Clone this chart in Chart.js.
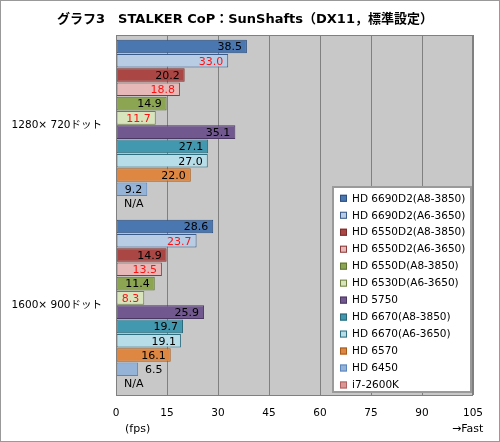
<!DOCTYPE html>
<html>
<head>
<meta charset="utf-8">
<script src="https://cdn.jsdelivr.net/npm/chart.js@4.4.1/dist/chart.umd.min.js"></script>
<style>
  body { margin: 0; background: #fff; }
  #wrap { width: 500px; height: 442px; }
</style>
</head>
<body>
<div id="wrap"><canvas id="bar-chart" width="500" height="442"></canvas></div>
<script>
// chart values
const categories = ["1280× 720ドット", "1600× 900ドット"];
const seriesNames = [
  "HD 6690D2(A8-3850)", "HD 6690D2(A6-3650)", "HD 6550D2(A8-3850)", "HD 6550D2(A6-3650)",
  "HD 6550D(A8-3850)", "HD 6530D(A6-3650)", "HD 5750", "HD 6670(A8-3850)",
  "HD 6670(A6-3650)", "HD 6570", "HD 6450", "i7-2600K"
];
const hd6690d2A8 = [38.5, 28.6];
const hd6690d2A6 = [33.0, 23.7];
const hd6550d2A8 = [20.2, 14.9];
const hd6550d2A6 = [18.8, 13.5];
const hd6550dA8 = [14.9, 11.4];
const hd6530dA6 = [11.7, 8.3];
const hd5750 = [35.1, 25.9];
const hd6670A8 = [27.1, 19.7];
const hd6670A6 = [27.0, 19.1];
const hd6570 = [22.0, 16.1];
const hd6450 = [9.2, 6.5];
const i72600k = [null, null]; // N/A
const xTicks = [0, 15, 30, 45, 60, 75, 90, 105];

const seriesValues = [hd6690d2A8, hd6690d2A6, hd6550d2A8, hd6550d2A6, hd6550dA8, hd6530dA6,
  hd5750, hd6670A8, hd6670A6, hd6570, hd6450, i72600k];
const fills = ["#4A77B0", "#B8CCE4", "#AA4644", "#E6B9B8", "#8CA552", "#D8E4BC",
  "#71588F", "#4198AF", "#B7DDE8", "#DE8742", "#95B3D7", "#D99694"];
const edges = ["#2C4D7E", "#3A5A8A", "#7B2C2A", "#8B3A3A", "#5E7431", "#6F8040",
  "#4B3862", "#2A6878", "#2F6F80", "#A55A1A", "#5A86C0", "#B06060"];
const redLabels = [1, 3, 5];

const FONT = '"DejaVu Sans", "Noto Sans CJK JP", sans-serif';

const decor = {
  id: 'decor',
  beforeDraw(chart) {
    const { ctx, chartArea: a } = chart;
    ctx.save();
    ctx.fillStyle = '#fff';
    ctx.fillRect(0, 0, chart.width, chart.height);
    ctx.fillStyle = '#C8C8C8';
    ctx.fillRect(a.left, a.top, a.right - a.left, a.bottom - a.top);
    ctx.restore();
  },
  afterDatasetsDraw(chart) {
    const { ctx, chartArea: a } = chart;
    ctx.save();
    ctx.font = '11px ' + FONT;
    ctx.textBaseline = 'middle';
    chart.data.datasets.forEach((ds, di) => {
      const meta = chart.getDatasetMeta(di);
      meta.data.forEach((el, i) => {
        const v = ds.data[i];
        ctx.fillStyle = redLabels.includes(di) ? '#FF1010' : '#000';
        ctx.textAlign = 'left';
        if (v == null) {
          ctx.fillStyle = '#000';
          ctx.fillText('N/A', a.left + 8, el.y + 1);
          return;
        }
        const txt = v.toFixed(1);
        const w = ctx.measureText(txt).width;
        let x = el.x - 5 - w;
        if (x < el.base + 4) x = el.x + 7;
        ctx.fillText(txt, x, el.y + 1);
      });
    });
    // plot border
    ctx.strokeStyle = '#808080';
    ctx.lineWidth = 1;
    ctx.strokeRect(a.left + 0.5, a.top + 0.5, a.right - a.left - 1, a.bottom - a.top);
    ctx.restore();
  },
  afterDraw(chart) {
    const { ctx } = chart;
    ctx.save();
    // title
    ctx.fillStyle = '#000';
    ctx.font = 'bold 13px ' + FONT;
    ctx.textAlign = 'center';
    ctx.textBaseline = 'middle';
    ctx.fillText('グラフ3　STALKER CoP：SunShafts（DX11，標準設定）', 245, 20);
    // axis notes
    ctx.font = '11px ' + FONT;
    ctx.textAlign = 'left';
    ctx.fillText('(fps)', 125, 429);
    ctx.fillText('→Fast', 452, 429);
    // legend
    const lx = 333, ly = 187, lw = 138, lh = 205;
    ctx.fillStyle = '#fff';
    ctx.fillRect(lx, ly, lw, lh);
    ctx.strokeStyle = '#9A9A9A';
    ctx.lineWidth = 2;
    ctx.strokeRect(lx, ly, lw, lh);
    ctx.font = '10.5px ' + FONT;
    ctx.textBaseline = 'middle';
    chart.data.datasets.forEach((ds, i) => {
      const cy = 198.3 + i * 16.97;
      ctx.fillStyle = ds.backgroundColor;
      ctx.fillRect(340, cy - 3.5, 7, 7);
      ctx.strokeStyle = ds.borderColor;
      ctx.lineWidth = 1;
      ctx.strokeRect(340.5, cy - 3, 6, 6);
      ctx.fillStyle = '#000';
      ctx.fillText(ds.label, 352, cy + 0.5);
    });
    // outer frame
    ctx.strokeStyle = '#999';
    ctx.lineWidth = 1;
    ctx.strokeRect(0.5, 0.5, chart.width - 1, chart.height - 1);
    ctx.restore();
  }
};

new Chart(document.getElementById("bar-chart"), {
  type: 'bar',
  data: {
    labels: categories,
    datasets: seriesNames.map((name, i) => ({
      label: name,
      data: seriesValues[i],
      backgroundColor: fills[i],
      borderColor: edges[i],
      borderWidth: 1,
      borderSkipped: false,
      categoryPercentage: 0.951,
      barPercentage: 0.95
    }))
  },
  options: {
    indexAxis: 'y',
    responsive: false,
    animation: false,
    devicePixelRatio: 1,
    layout: { padding: { top: 35, right: 27, left: 0, bottom: 0 } },
    plugins: {
      legend: { display: false },
      title: { display: false },
      tooltip: { enabled: false }
    },
    scales: {
      x: {
        min: 0,
        max: 105,
        afterBuildTicks(scale) { scale.ticks = xTicks.map(v => ({ value: v })); },
        afterFit(scale) { scale.height = 47; },
        grid: { color: '#808080', drawTicks: false },
        border: { display: false },
        ticks: { padding: 12, color: '#000', font: { family: FONT, size: 10.5 } }
      },
      y: {
        afterFit(scale) { scale.width = 116; },
        grid: { display: false, drawTicks: false },
        border: { display: false },
        ticks: { padding: 14, color: '#000', font: { family: FONT, size: 10.5 } }
      }
    }
  },
  plugins: [decor]
});
</script>
</body>
</html>
